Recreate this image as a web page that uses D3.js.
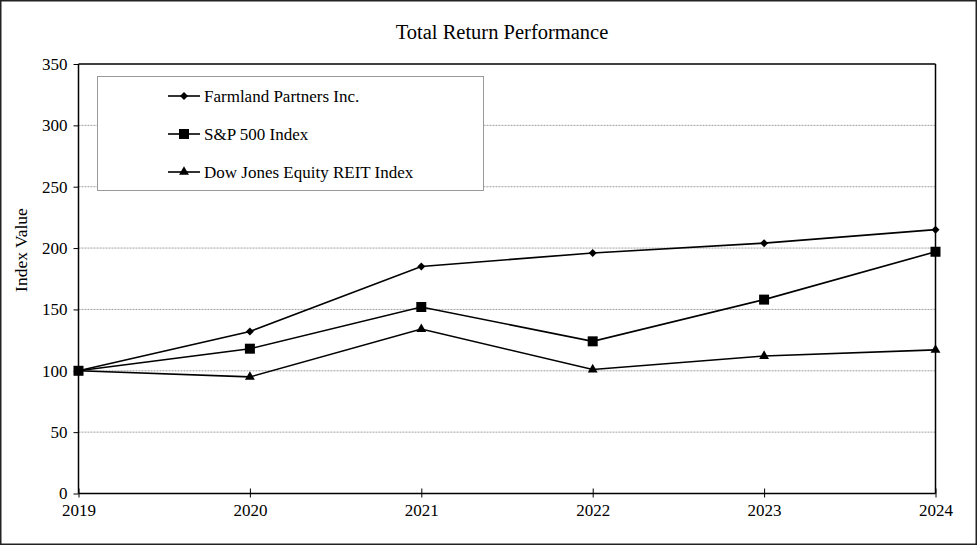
<!DOCTYPE html>
<html><head><meta charset="utf-8">
<script src="https://cdn.jsdelivr.net/npm/d3@7/dist/d3.min.js"></script>
<style>body{margin:0;background:#fff}svg{display:block}text{font-family:"Liberation Serif","Times New Roman",serif;fill:#000}</style>
</head><body>
<svg id="c" width="977" height="545"></svg>
<script>
const years = [2019, 2020, 2021, 2022, 2023, 2024];
const farmland = [100, 132, 185, 196, 204, 215];
const sp500 = [100, 118, 152, 124, 158, 197];
const reit = [100, 95, 134, 101, 112, 117];
const yTicks = [0, 50, 100, 150, 200, 250, 300, 350];
const seriesNames = ["Farmland Partners Inc.", "S&P 500 Index", "Dow Jones Equity REIT Index"];
const seriesData = [farmland, sp500, reit];

const symDiamond = d3.symbol().type(d3.symbolSquare).size(32)();
const symSquare = d3.symbol().type(d3.symbolSquare).size(100)();
const symTri = d3.symbol().type(d3.symbolTriangle).size(42)();
const seriesSym = [symDiamond, symSquare, symTri];
const seriesRot = [45, 0, 0];

const svg = d3.select("#c");
const W = 977, H = 545;
const m = {l: 78.5, r: 935.5, t: 64, b: 493.5};

svg.append("rect").attr("x", 0.75).attr("y", 0.75).attr("width", W - 1.5).attr("height", H - 1.5)
  .attr("fill", "#fff").attr("stroke", "#222").attr("stroke-width", 1.5);

const x = d3.scaleLinear().domain([2019, 2024]).range([m.l, m.r]);
const y = d3.scaleLinear().domain([0, 350]).range([m.b, m.t]);

svg.append("g").selectAll("line").data(yTicks.filter(v => v > 0 && v < 350)).join("line")
  .attr("x1", m.l).attr("x2", m.r).attr("y1", d => y(d)).attr("y2", d => y(d))
  .attr("stroke", "#888").attr("stroke-width", 0.8).attr("stroke-dasharray", "2,1");

svg.append("line").attr("x1", m.l).attr("x2", m.r).attr("y1", m.t).attr("y2", m.t).attr("stroke", "#000").attr("stroke-width", 1.5);
svg.append("line").attr("x1", m.r).attr("x2", m.r).attr("y1", m.t).attr("y2", m.b).attr("stroke", "#000").attr("stroke-width", 1.5);

const ya = svg.append("g").attr("transform", `translate(${m.l},0)`)
  .call(d3.axisLeft(y).tickValues(yTicks).tickSize(5).tickPadding(6).tickFormat(d3.format("d")));
ya.select(".domain").attr("stroke-width", 1.5).attr("d", `M0,${m.t}V${m.b}`);
ya.selectAll("text").style("font-size", "17px").style("font-family", "Liberation Serif");

const xa = svg.append("g").attr("transform", `translate(0,${m.b})`)
  .call(d3.axisBottom(x).tickValues(years).tickFormat(d3.format("d")).tickSize(4).tickPadding(6));
xa.select(".domain").attr("stroke-width", 1.5).attr("d", `M${m.l},0H${m.r}`);
xa.selectAll(".tick line").attr("y1", -5);
xa.selectAll("text").style("font-size", "17px").style("font-family", "Liberation Serif");

svg.append("text").attr("x", 502).attr("y", 39).attr("text-anchor", "middle").style("font-size", "20.5px").text("Total Return Performance");
svg.append("text").attr("transform", `translate(27,250) rotate(-90)`).attr("text-anchor", "middle").style("font-size", "17.5px").text("Index Value");

const line = d3.line().x((d, i) => x(years[i])).y(d => y(d));
seriesData.forEach((s, k) => {
  svg.append("path").datum(s).attr("d", line).attr("fill", "none").attr("stroke", "#000").attr("stroke-width", 1.6);
  svg.append("g").selectAll("path").data(s).join("path")
    .attr("transform", (d, i) => `translate(${x(years[i])},${y(d)}) rotate(${seriesRot[k]})`)
    .attr("d", seriesSym[k]).attr("fill", "#000");
});

svg.append("rect").attr("x", 97.5).attr("y", 76.5).attr("width", 386).attr("height", 114)
  .attr("fill", "#fff").attr("stroke", "#999").attr("stroke-width", 1);
const ly = [96, 134, 172];
seriesNames.forEach((n, k) => {
  svg.append("line").attr("x1", 168).attr("x2", 200).attr("y1", ly[k]).attr("y2", ly[k]).attr("stroke", "#000").attr("stroke-width", 1.6);
  svg.append("path").attr("transform", `translate(184,${ly[k]}) rotate(${seriesRot[k]})`).attr("d", seriesSym[k]).attr("fill", "#000");
  svg.append("text").attr("x", 204).attr("y", ly[k] + 5.5).style("font-size", "17px").text(n);
});
</script>
</body></html>
